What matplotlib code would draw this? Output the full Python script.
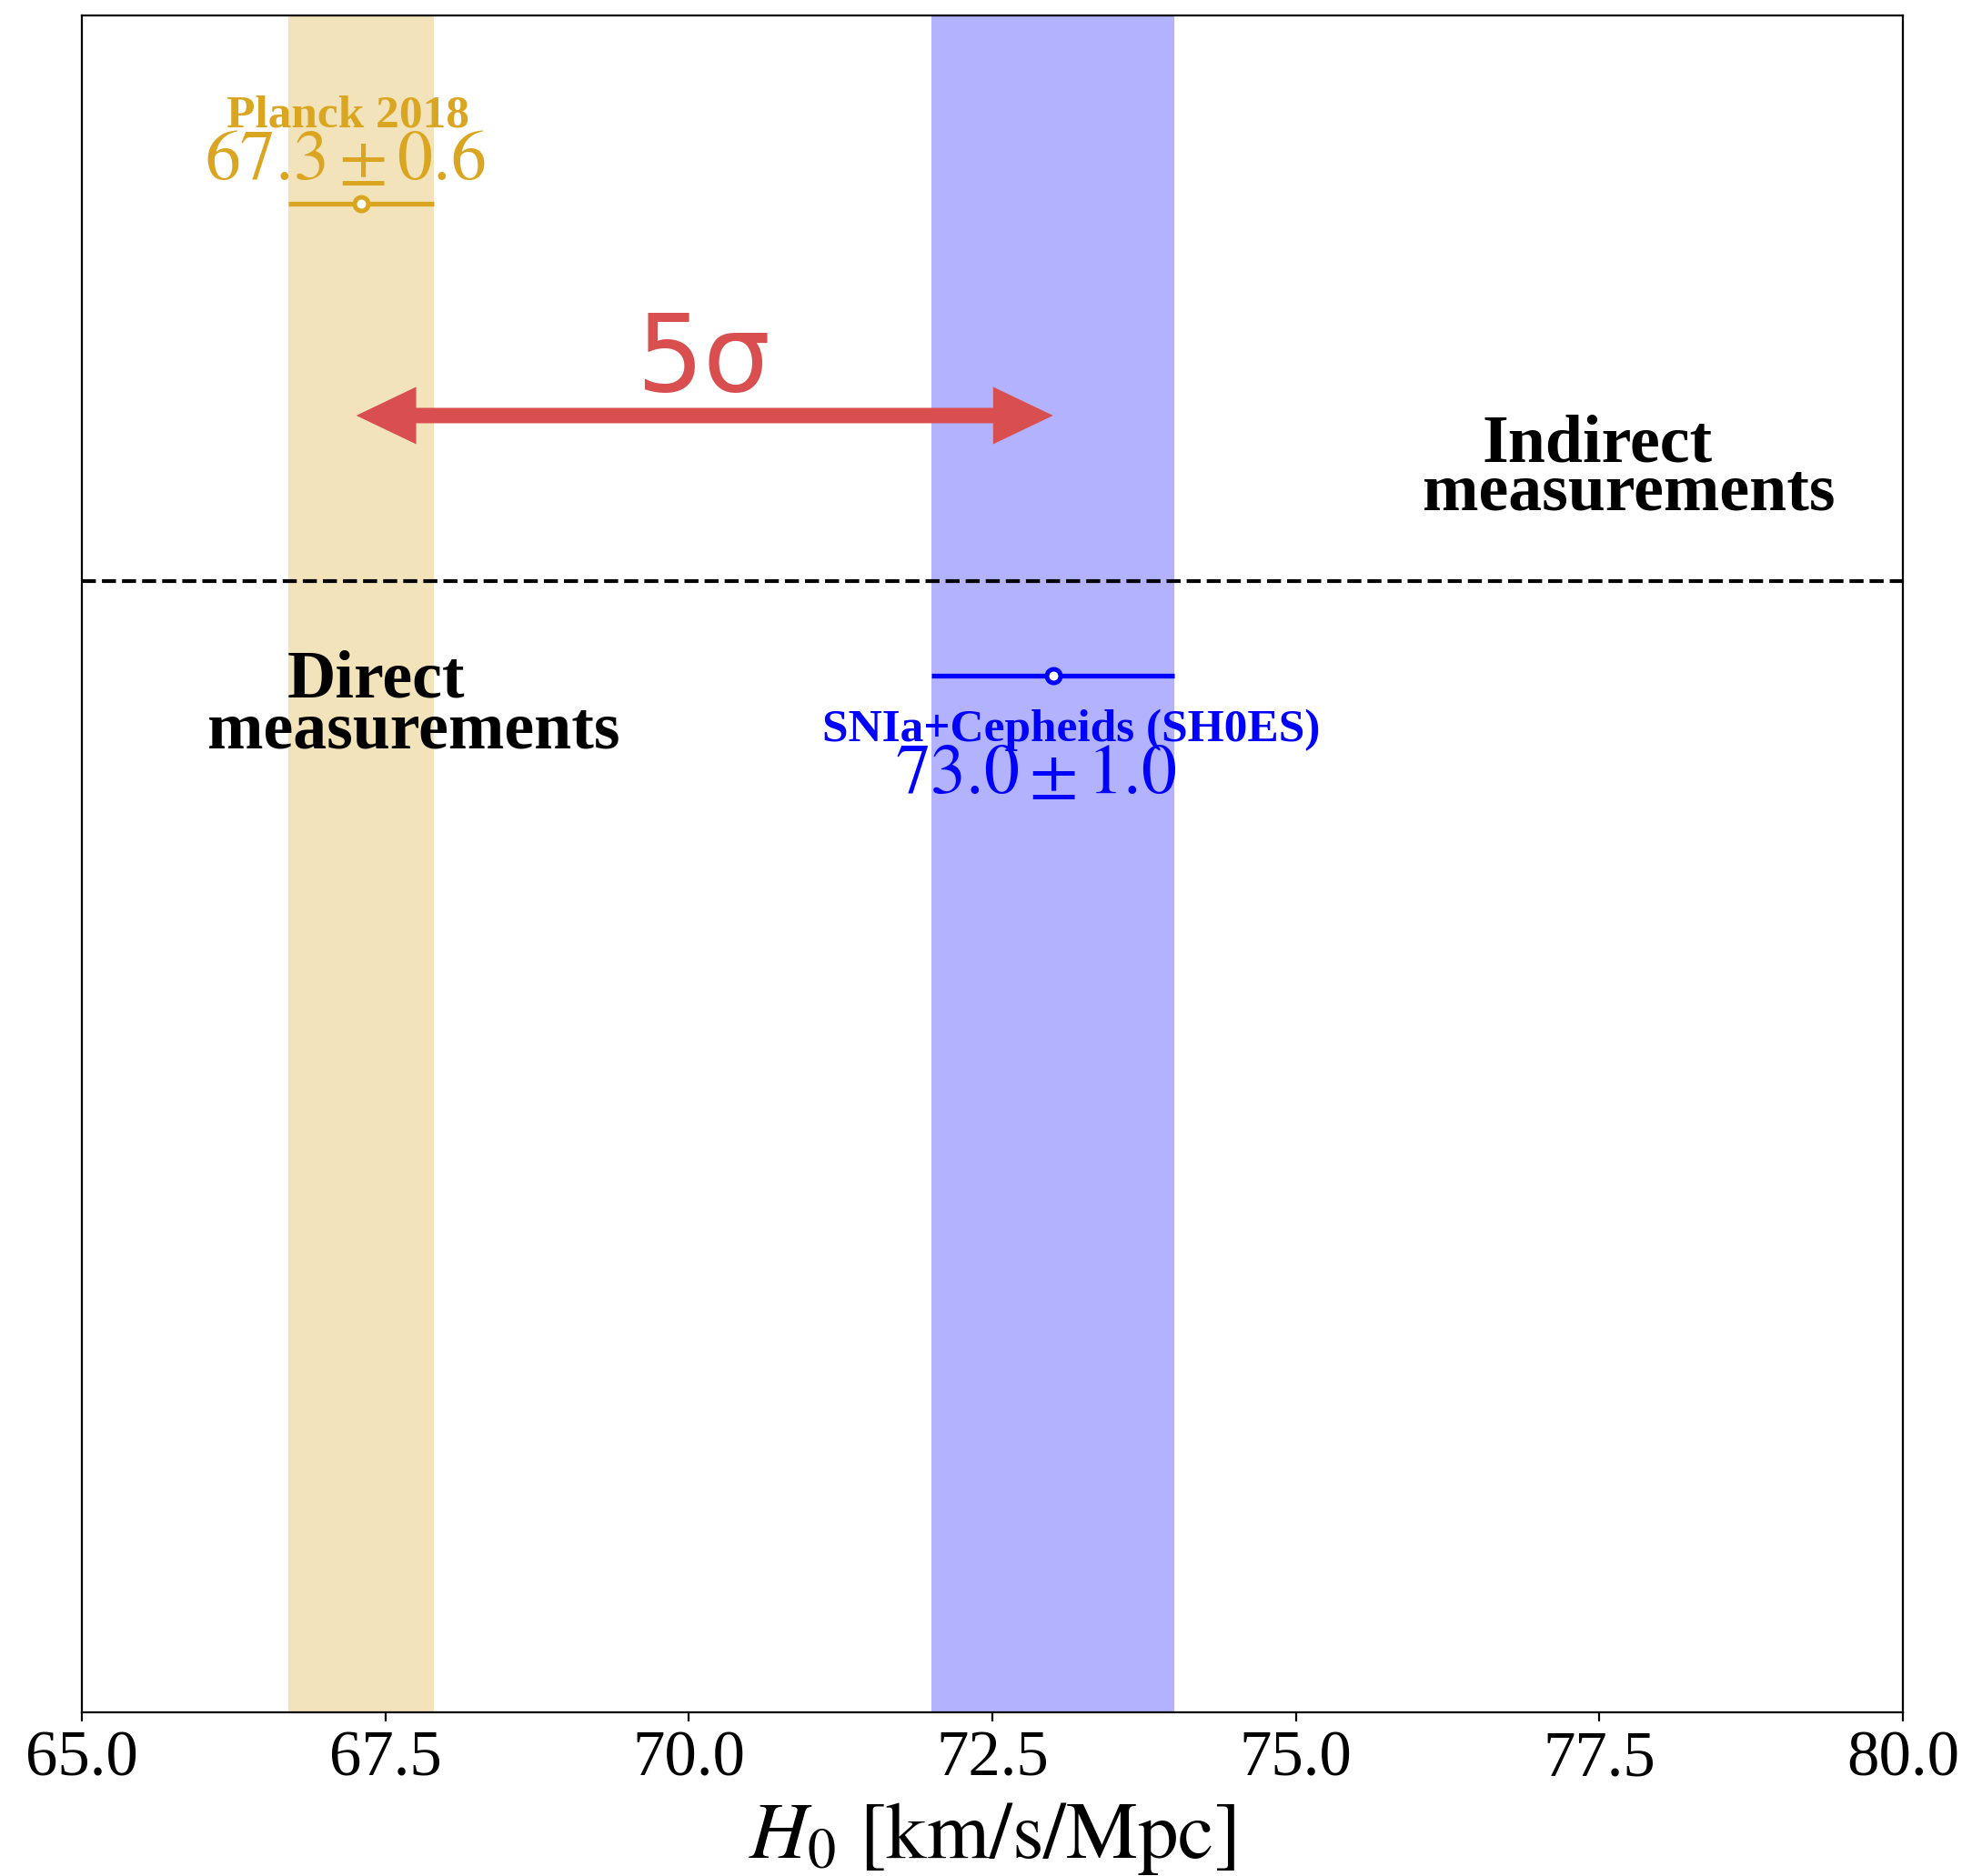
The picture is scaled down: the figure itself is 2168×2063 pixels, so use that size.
import matplotlib
matplotlib.use("Agg")
import matplotlib.pyplot as plt
from matplotlib.patches import FancyArrowPatch
from matplotlib.ticker import MultipleLocator, FormatStrFormatter

plt.rcParams['font.family'] = 'serif'
plt.rcParams['font.serif'] = ['Liberation Serif', 'DejaVu Serif']
plt.rcParams['mathtext.fontset'] = 'stix'

# measurements: Planck (indirect) and SH0ES (direct)
names = ['Planck 2018', 'SNIa+Cepheids (SH0ES)']
h0 = [67.3, 73.0]
err = [0.6, 1.0]
ypos = [8.0, 5.5]
colors = ['goldenrod', 'blue']
band_alpha = [0.3, 0.3]

divider_y = 6.0
tension_label = '5σ'

fig = plt.figure(figsize=(10.84, 10.315), dpi=200)
ax = fig.add_axes([0.04151, 0.08725, 0.92343, 0.90451])

for i in range(len(h0)):
    ax.axvspan(h0[i] - err[i], h0[i] + err[i], color=colors[i], alpha=band_alpha[i], lw=0, zorder=0)
    ax.errorbar(h0[i], ypos[i], xerr=err[i], fmt='o', color=colors[i], ecolor=colors[i],
                elinewidth=1.9, capsize=0, ms=5.4, mew=1.8, mfc='white', mec=colors[i], zorder=3)

ax.axhline(divider_y, color='black', ls='--', lw=1.5, zorder=2)

# labels for each measurement
ax.text(67.19, 8.407, names[0], color=colors[0], fontsize=18.5, fontweight='bold',
        ha='center', va='baseline')
ax.text(67.165, 8.132, r'$%.1f \pm %.1f$' % (h0[0], err[0]), color=colors[0], fontsize=28,
        ha='center', va='baseline')
ax.text(73.148, 5.151, names[1], color=colors[1], fontsize=18.5, fontweight='bold',
        ha='center', va='baseline')
ax.text(72.86, 4.876, r'$%.1f \pm %.1f$' % (h0[1], err[1]), color=colors[1], fontsize=28,
        ha='center', va='baseline')

ax.text(67.42, 5.383, 'Direct', fontsize=26.6, fontweight='bold', ha='center', va='baseline')
ax.text(67.73, 5.117, 'measurements', fontsize=26.6, fontweight='bold', ha='center', va='baseline')
ax.text(77.48, 6.632, 'Indirect', fontsize=26.6, fontweight='bold', ha='center', va='baseline')
ax.text(77.74, 6.381, 'measurements', fontsize=26.6, fontweight='bold', ha='center', va='baseline')

# double arrow between the two central values
arrow_y = 6.878
red = '#d94e4e'
arrow = FancyArrowPatch((h0[0] - 0.04, arrow_y), (h0[1], arrow_y),
                        arrowstyle='<|-|>,head_length=13.6,head_width=6.5',
                        mutation_scale=1, color=red, lw=6.1, shrinkA=0, shrinkB=0,
                        joinstyle='miter', capstyle='butt', zorder=4)
ax.add_patch(arrow)
ax.text(70.12, 7.008, tension_label, color=red, fontsize=42, family='DejaVu Sans',
        ha='center', va='baseline')

ax.set_xlim(65, 80)
ax.set_ylim(0, 9)
ax.set_yticks([])
ax.xaxis.set_major_locator(MultipleLocator(2.5))
ax.xaxis.set_major_formatter(FormatStrFormatter('%.1f'))
ax.tick_params(axis='x', labelsize=25.5, length=3.5, width=0.8)
ax.set_xlabel(r'$H_0\ [\mathrm{km/s/Mpc}]$', fontsize=32, labelpad=4.5)

fig.savefig('out.png', dpi=200)
